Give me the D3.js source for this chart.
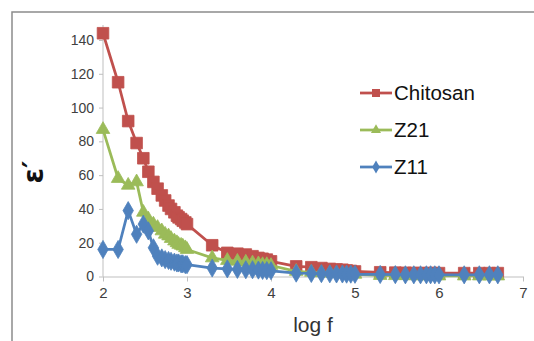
<!DOCTYPE html>
<html><head><meta charset="utf-8">
<script src="https://cdn.jsdelivr.net/npm/d3@7"></script>
<style>body{margin:0;background:#fff;} svg{display:block;}</style>
</head><body>
<svg id="c" width="534" height="341"></svg>
<script>
const logF = [2.00, 2.18, 2.30, 2.40, 2.48, 2.54, 2.60, 2.65, 2.70, 2.74, 2.78, 2.81, 2.85, 2.88, 2.90, 2.93, 2.95, 2.98, 3.00,
  3.30, 3.48, 3.60, 3.70, 3.78, 3.85, 3.90, 3.95, 4.00,
  4.30, 4.48, 4.60, 4.70, 4.78, 4.85, 4.90, 4.95, 5.00,
  5.30, 5.48, 5.60, 5.70, 5.78, 5.85, 5.90, 5.95, 6.00,
  6.30, 6.48, 6.60, 6.70];
const chitosan = [144, 115, 92, 79, 70, 62, 56, 52, 48, 45, 42, 40, 38, 36, 35, 34, 33, 32, 31,
  18.5, 14, 13.5, 13, 12, 11, 10.5, 10, 9,
  6, 5.5, 5, 4.5, 4.2, 4, 3.6, 3.3, 3,
  2.5, 2.3, 2.2, 2.1, 2, 2, 2, 2, 2,
  2, 2, 2, 2];
const z21 = [87, 58, 54, 56, 38, 34, 31, 29, 27, 25, 24, 22.5, 21, 20, 19, 18.5, 18, 17, 16,
  11, 9.5, 9, 8.5, 8, 7.5, 7, 7, 6.5,
  3, 2.5, 2.2, 2, 1.8, 1.6, 1.5, 1.4, 1.3,
  0.6, 0.5, 0.5, 0.4, 0.4, 0.4, 0.4, 0.4, 0.3,
  0.3, 0.3, 0.3, 0.3];
const z11 = [16, 16, 39, 25, 31, 27, 17, 12, 11, 10, 9.5, 9, 8.5, 8, 8, 7.5, 7.5, 7, 7,
  5, 4.5, 4.2, 4, 4, 3.8, 3.6, 3.5, 3.4,
  2, 1.8, 1.7, 1.6, 1.5, 1.5, 1.4, 1.4, 1.3,
  1.2, 1.1, 1, 1, 1, 1, 1, 1, 1,
  1, 1, 1, 1];
const seriesNames = ["Chitosan", "Z21", "Z11"];
const xTicks = [2, 3, 4, 5, 6, 7];
const yTicks = [0, 20, 40, 60, 80, 100, 120, 140];

const colors = {"Chitosan": "#C0504D", "Z21": "#9BBB59", "Z11": "#4F81BD"};
const symbols = {"Chitosan": d3.symbolSquare, "Z21": d3.symbolTriangle, "Z11": d3.symbolDiamond};
const msize = {"Chitosan": 135, "Z21": 80, "Z11": 95};
const lsize = {"Chitosan": 64, "Z21": 44, "Z11": 50};
const values = {"Chitosan": chitosan, "Z21": z21, "Z11": z11};

const svg = d3.select("#c");
const x = d3.scaleLinear().domain([2, 7]).range([103, 523]);
const y = d3.scaleLinear().domain([0, 140]).range([276.5, 40]);

// outer chart border
svg.append("rect").attr("x", 12).attr("y", 12).attr("width", 560).attr("height", 360)
  .attr("fill", "none").attr("stroke", "#8c8c8c").attr("stroke-width", 1.5);

// y axis
const yAx = svg.append("g").attr("transform", "translate(103,0)")
  .call(d3.axisLeft(y).tickValues(yTicks).tickSize(4).tickPadding(5).tickFormat(d3.format("d")));
yAx.select(".domain").remove();
yAx.selectAll(".tick line").attr("stroke", "#bfbfbf");
yAx.selectAll(".tick text").attr("fill", "#404040").style("font", "14px 'Liberation Sans', Arial, sans-serif");
svg.append("line").attr("x1", 103).attr("x2", 103).attr("y1", 25).attr("y2", y(0))
  .attr("stroke", "#bfbfbf").attr("stroke-width", 1);

// x axis
const xAx = svg.append("g").attr("transform", `translate(0,${y(0)})`)
  .call(d3.axisBottom(x).tickValues(xTicks).tickSize(5).tickPadding(6).tickFormat(d3.format("d")));
xAx.select(".domain").attr("stroke", "#bfbfbf").attr("d", `M103,0.5H${x(7)}`);
xAx.selectAll(".tick line").attr("stroke", "#bfbfbf");
xAx.selectAll(".tick text").attr("fill", "#404040").style("font", "15px 'Liberation Sans', Arial, sans-serif");

// axis titles
svg.append("text").attr("x", 313).attr("y", 332).attr("text-anchor", "middle")
  .attr("fill", "#333").style("font", "21px 'Liberation Sans', Arial, sans-serif").text("log f");
svg.append("text").attr("transform", "translate(43,172) rotate(-90)").attr("text-anchor", "middle")
  .attr("fill", "#111").style("font", "bold 28px 'DejaVu Sans', sans-serif").text("ε′");

// series
const line = d3.line().x(d => x(d[0])).y(d => y(d[1]));
seriesNames.forEach(name => {
  const pts = logF.map((f, i) => [f, values[name][i]]);
  const g = svg.append("g");
  g.append("path").datum(pts).attr("d", line).attr("fill", "none")
    .attr("stroke", colors[name]).attr("stroke-width", 2.75).attr("stroke-linejoin", "round");
  g.selectAll("path.m").data(pts).join("path").attr("class", "m")
    .attr("transform", d => `translate(${x(d[0])},${y(d[1])})`)
    .attr("d", d3.symbol().type(symbols[name]).size(msize[name]))
    .attr("fill", colors[name]).attr("stroke", colors[name]).attr("stroke-width", 0.8);
});

// legend
const legY = [93, 130, 167];
seriesNames.forEach((name, i) => {
  const g = svg.append("g").attr("transform", `translate(360,${legY[i]})`);
  g.append("line").attr("x1", 0).attr("x2", 32).attr("stroke", colors[name]).attr("stroke-width", 2.75);
  g.append("path").attr("transform", "translate(16,0)")
    .attr("d", d3.symbol().type(symbols[name]).size(lsize[name])).attr("fill", colors[name]);
  g.append("text").attr("x", 34).attr("y", 0).attr("dy", "0.36em").attr("fill", "#111")
    .style("font", "20.5px 'Liberation Sans', Arial, sans-serif").text(name);
});
</script>
</body></html>
